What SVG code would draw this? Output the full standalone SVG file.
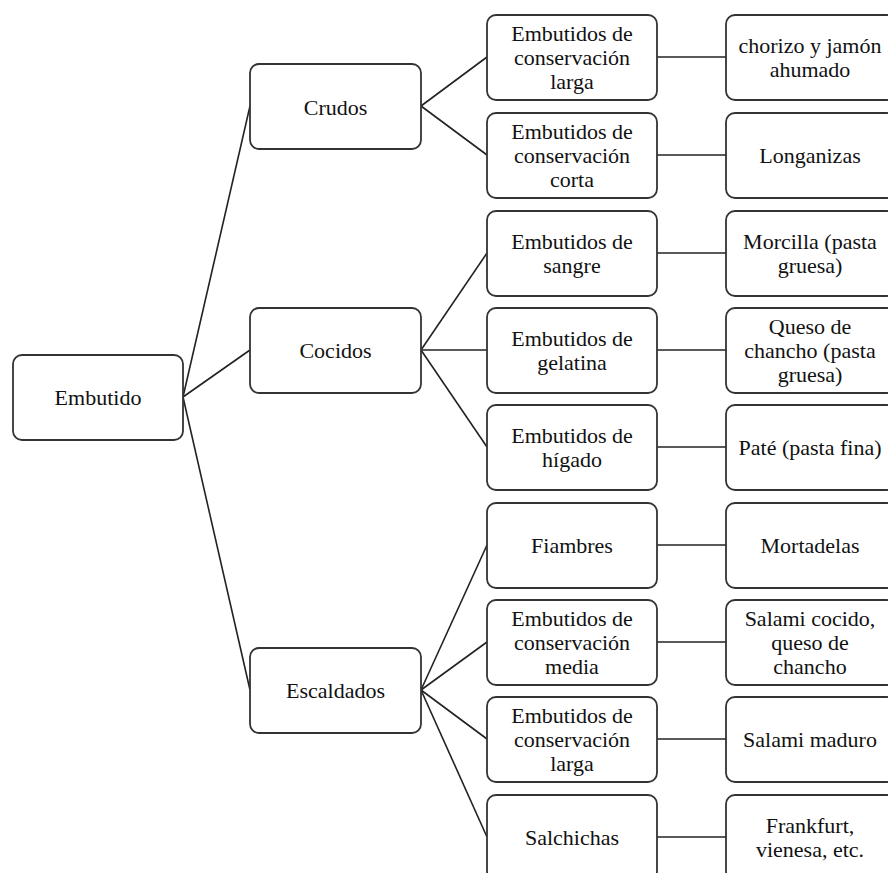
<svg xmlns="http://www.w3.org/2000/svg" width="888" height="873" viewBox="0 0 888 873">
<style>
.n rect{fill:#fff;stroke:#333;stroke-width:1.8}
.n text{font-size:22px;fill:#111;text-anchor:middle}
#edges line{stroke:#222;stroke-width:1.6}
</style>
<rect width="888" height="873" fill="#fff"/>
<g id="edges">
<line x1="183" y1="397" x2="250" y2="106"/>
<line x1="183" y1="397" x2="250" y2="350"/>
<line x1="183" y1="397" x2="250" y2="690"/>
<line x1="421" y1="106" x2="487" y2="57"/>
<line x1="421" y1="106" x2="487" y2="155"/>
<line x1="421" y1="350" x2="487" y2="253"/>
<line x1="421" y1="350" x2="487" y2="350"/>
<line x1="421" y1="350" x2="487" y2="447"/>
<line x1="421" y1="690" x2="487" y2="545"/>
<line x1="421" y1="690" x2="487" y2="642"/>
<line x1="421" y1="690" x2="487" y2="739"/>
<line x1="421" y1="690" x2="487" y2="837"/>
<line x1="657" y1="57" x2="726" y2="57"/>
<line x1="657" y1="155" x2="726" y2="155"/>
<line x1="657" y1="253" x2="726" y2="253"/>
<line x1="657" y1="350" x2="726" y2="350"/>
<line x1="657" y1="447" x2="726" y2="447"/>
<line x1="657" y1="545" x2="726" y2="545"/>
<line x1="657" y1="642" x2="726" y2="642"/>
<line x1="657" y1="739" x2="726" y2="739"/>
<line x1="657" y1="837" x2="726" y2="837"/>
</g>
<g id="nodes" font-family="Liberation Serif, Times New Roman, serif">
<g id="embutido" class="n"><rect x="13" y="355" width="170" height="85" rx="9"/><text x="98" y="405">Embutido</text></g>
<g id="crudos" class="n"><rect x="250" y="64" width="171" height="85" rx="9"/><text x="335.5" y="115">Crudos</text></g>
<g id="cocidos" class="n"><rect x="250" y="308" width="171" height="85" rx="9"/><text x="335.5" y="358">Cocidos</text></g>
<g id="escaldados" class="n"><rect x="250" y="648" width="171" height="85" rx="9"/><text x="335.5" y="698">Escaldados</text></g>

<g id="cr-larga" class="n"><rect x="487" y="15" width="170" height="85" rx="9"/><text x="572" y="41">Embutidos de</text><text x="572" y="65">conservación</text><text x="572" y="89">larga</text></g>
<g id="cr-corta" class="n"><rect x="487" y="113" width="170" height="85" rx="9"/><text x="572" y="139">Embutidos de</text><text x="572" y="163">conservación</text><text x="572" y="187">corta</text></g>
<g id="sangre" class="n"><rect x="487" y="211" width="170" height="85" rx="9"/><text x="572" y="249">Embutidos de</text><text x="572" y="273">sangre</text></g>
<g id="gelatina" class="n"><rect x="487" y="308" width="170" height="85" rx="9"/><text x="572" y="346">Embutidos de</text><text x="572" y="370">gelatina</text></g>
<g id="higado" class="n"><rect x="487" y="405" width="170" height="85" rx="9"/><text x="572" y="443">Embutidos de</text><text x="572" y="467">hígado</text></g>
<g id="fiambres" class="n"><rect x="487" y="503" width="170" height="85" rx="9"/><text x="572" y="553">Fiambres</text></g>
<g id="es-media" class="n"><rect x="487" y="600" width="170" height="85" rx="9"/><text x="572" y="626">Embutidos de</text><text x="572" y="650">conservación</text><text x="572" y="674">media</text></g>
<g id="es-larga" class="n"><rect x="487" y="697" width="170" height="85" rx="9"/><text x="572" y="723">Embutidos de</text><text x="572" y="747">conservación</text><text x="572" y="771">larga</text></g>
<g id="salchichas" class="n"><rect x="487" y="795" width="170" height="85" rx="9"/><text x="572" y="845">Salchichas</text></g>

<g id="chorizo" class="n"><rect x="726" y="15" width="170" height="85" rx="9"/><text x="810" y="53">chorizo y jamón</text><text x="810" y="77">ahumado</text></g>
<g id="longanizas" class="n"><rect x="726" y="113" width="170" height="85" rx="9"/><text x="810" y="163">Longanizas</text></g>
<g id="morcilla" class="n"><rect x="726" y="211" width="170" height="85" rx="9"/><text x="810" y="249">Morcilla (pasta</text><text x="810" y="273">gruesa)</text></g>
<g id="queso" class="n"><rect x="726" y="308" width="170" height="85" rx="9"/><text x="810" y="334">Queso de</text><text x="810" y="358">chancho (pasta</text><text x="810" y="382">gruesa)</text></g>
<g id="pate" class="n"><rect x="726" y="405" width="170" height="85" rx="9"/><text x="810" y="455">Paté (pasta fina)</text></g>
<g id="mortadelas" class="n"><rect x="726" y="503" width="170" height="85" rx="9"/><text x="810" y="553">Mortadelas</text></g>
<g id="salami-cocido" class="n"><rect x="726" y="600" width="170" height="85" rx="9"/><text x="810" y="626">Salami cocido,</text><text x="810" y="650">queso de</text><text x="810" y="674">chancho</text></g>
<g id="salami-maduro" class="n"><rect x="726" y="697" width="170" height="85" rx="9"/><text x="810" y="747">Salami maduro</text></g>
<g id="frankfurt" class="n"><rect x="726" y="795" width="170" height="85" rx="9"/><text x="810" y="833">Frankfurt,</text><text x="810" y="857">vienesa, etc.</text></g>
</g>
</svg>
